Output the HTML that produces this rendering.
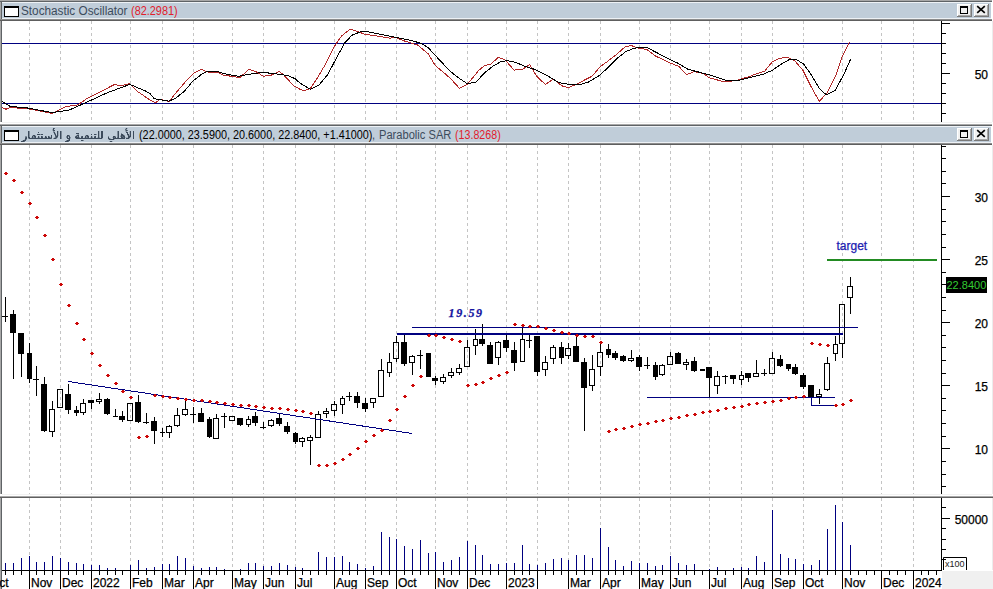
<!DOCTYPE html><html><head><meta charset="utf-8"><style>
html,body{margin:0;padding:0;background:#fff;}
body{width:993px;height:589px;overflow:hidden;position:relative;font-family:"Liberation Sans",sans-serif;}
.t{position:absolute;white-space:pre;font-size:12px;line-height:14px;}.b{-webkit-text-stroke:0.25px currentColor;}
svg{position:absolute;left:0;top:0;}
</style></head><body>
<svg width="993" height="589" viewBox="0 0 993 589">
<rect x="0" y="0" width="992" height="1" fill="#a8a8a8"/>
<rect x="0" y="1" width="992" height="1" fill="#5f6366"/>
<rect x="2" y="2" width="989" height="1" fill="#eef2f6"/>
<rect x="2" y="3" width="989" height="15" fill="#c0cdd9"/>
<rect x="2" y="18" width="989" height="1" fill="#edf1f5"/>
<rect x="0" y="19" width="992" height="1" fill="#8c8c8c"/>
<rect x="0" y="20" width="992" height="1" fill="#5e5e5e"/>
<rect x="0" y="2" width="1" height="17" fill="#a8a8a8"/>
<rect x="1" y="2" width="1" height="17" fill="#5f6366"/>
<rect x="4" y="6" width="15" height="11" fill="#000"/>
<rect x="5" y="8" width="13" height="8" fill="#fff"/>
<rect x="957" y="4" width="15" height="13" fill="#7a7a7a"/>
<rect x="957" y="4" width="14" height="12" fill="#ffffff"/>
<rect x="958" y="5" width="13" height="11" fill="#a8a8a8"/>
<rect x="958" y="5" width="12" height="10" fill="#f0f0f0"/>
<rect x="960" y="6" width="8" height="8" fill="#000"/>
<rect x="961" y="8" width="6" height="5" fill="#f0f0f0"/>
<rect x="974" y="4" width="15" height="13" fill="#7a7a7a"/>
<rect x="974" y="4" width="14" height="12" fill="#ffffff"/>
<rect x="975" y="5" width="13" height="11" fill="#a8a8a8"/>
<rect x="975" y="5" width="12" height="10" fill="#f0f0f0"/>
<path d="M977.2 6.2L984.8 12.8M984.8 6.2L977.2 12.8" stroke="#000" stroke-width="1.7"/>
<rect x="0" y="124" width="992" height="1" fill="#a8a8a8"/>
<rect x="0" y="125" width="992" height="1" fill="#5f6366"/>
<rect x="2" y="126" width="989" height="1" fill="#eef2f6"/>
<rect x="2" y="127" width="989" height="15" fill="#c0cdd9"/>
<rect x="2" y="142" width="989" height="1" fill="#edf1f5"/>
<rect x="0" y="143" width="992" height="1" fill="#8c8c8c"/>
<rect x="0" y="144" width="992" height="1" fill="#5e5e5e"/>
<rect x="0" y="126" width="1" height="17" fill="#a8a8a8"/>
<rect x="1" y="126" width="1" height="17" fill="#5f6366"/>
<rect x="4" y="130" width="15" height="11" fill="#000"/>
<rect x="5" y="132" width="13" height="8" fill="#fff"/>
<rect x="957" y="128" width="15" height="13" fill="#7a7a7a"/>
<rect x="957" y="128" width="14" height="12" fill="#ffffff"/>
<rect x="958" y="129" width="13" height="11" fill="#a8a8a8"/>
<rect x="958" y="129" width="12" height="10" fill="#f0f0f0"/>
<rect x="960" y="130" width="8" height="8" fill="#000"/>
<rect x="961" y="132" width="6" height="5" fill="#f0f0f0"/>
<rect x="974" y="128" width="15" height="13" fill="#7a7a7a"/>
<rect x="974" y="128" width="14" height="12" fill="#ffffff"/>
<rect x="975" y="129" width="13" height="11" fill="#a8a8a8"/>
<rect x="975" y="129" width="12" height="10" fill="#f0f0f0"/>
<path d="M977.2 130.2L984.8 136.8M984.8 130.2L977.2 136.8" stroke="#000" stroke-width="1.7"/>
<rect x="0" y="21" width="1" height="101" fill="#a8a8a8"/>
<rect x="1" y="21" width="1" height="101" fill="#5f6366"/>
<rect x="0" y="145" width="1" height="349" fill="#a8a8a8"/>
<rect x="1" y="145" width="1" height="349" fill="#5f6366"/>
<rect x="0" y="498" width="1" height="91" fill="#a8a8a8"/>
<rect x="1" y="498" width="1" height="91" fill="#5f6366"/>
<rect x="0" y="496" width="993" height="1" fill="#a8a8a8"/>
<rect x="0" y="497" width="993" height="1" fill="#5f5f5f"/>
<rect x="991" y="21" width="2" height="101" fill="#ffffff"/>
<rect x="992" y="21" width="1" height="101" fill="#ececec"/>
<rect x="992" y="145" width="1" height="349" fill="#ececec"/>
<rect x="992" y="498" width="1" height="72" fill="#ececec"/>
<rect x="2" y="494" width="990" height="1" fill="#f2f2f2"/>
<rect x="2" y="122" width="990" height="1" fill="#f2f2f2"/>
<line x1="29.5" y1="21" x2="29.5" y2="122" stroke="#c4c4c4" stroke-width="1" stroke-dasharray="3 3"/>
<line x1="29.5" y1="145" x2="29.5" y2="494" stroke="#c4c4c4" stroke-width="1" stroke-dasharray="3 3"/>
<line x1="29.5" y1="498" x2="29.5" y2="570" stroke="#c4c4c4" stroke-width="1" stroke-dasharray="3 3"/>
<line x1="60.5" y1="21" x2="60.5" y2="122" stroke="#c4c4c4" stroke-width="1" stroke-dasharray="3 3"/>
<line x1="60.5" y1="145" x2="60.5" y2="494" stroke="#c4c4c4" stroke-width="1" stroke-dasharray="3 3"/>
<line x1="60.5" y1="498" x2="60.5" y2="570" stroke="#c4c4c4" stroke-width="1" stroke-dasharray="3 3"/>
<line x1="91.5" y1="21" x2="91.5" y2="122" stroke="#c4c4c4" stroke-width="1" stroke-dasharray="3 3"/>
<line x1="91.5" y1="145" x2="91.5" y2="494" stroke="#c4c4c4" stroke-width="1" stroke-dasharray="3 3"/>
<line x1="91.5" y1="498" x2="91.5" y2="570" stroke="#c4c4c4" stroke-width="1" stroke-dasharray="3 3"/>
<line x1="130.5" y1="21" x2="130.5" y2="122" stroke="#c4c4c4" stroke-width="1" stroke-dasharray="3 3"/>
<line x1="130.5" y1="145" x2="130.5" y2="494" stroke="#c4c4c4" stroke-width="1" stroke-dasharray="3 3"/>
<line x1="130.5" y1="498" x2="130.5" y2="570" stroke="#c4c4c4" stroke-width="1" stroke-dasharray="3 3"/>
<line x1="162.5" y1="21" x2="162.5" y2="122" stroke="#c4c4c4" stroke-width="1" stroke-dasharray="3 3"/>
<line x1="162.5" y1="145" x2="162.5" y2="494" stroke="#c4c4c4" stroke-width="1" stroke-dasharray="3 3"/>
<line x1="162.5" y1="498" x2="162.5" y2="570" stroke="#c4c4c4" stroke-width="1" stroke-dasharray="3 3"/>
<line x1="193.5" y1="21" x2="193.5" y2="122" stroke="#c4c4c4" stroke-width="1" stroke-dasharray="3 3"/>
<line x1="193.5" y1="145" x2="193.5" y2="494" stroke="#c4c4c4" stroke-width="1" stroke-dasharray="3 3"/>
<line x1="193.5" y1="498" x2="193.5" y2="570" stroke="#c4c4c4" stroke-width="1" stroke-dasharray="3 3"/>
<line x1="232.5" y1="21" x2="232.5" y2="122" stroke="#c4c4c4" stroke-width="1" stroke-dasharray="3 3"/>
<line x1="232.5" y1="145" x2="232.5" y2="494" stroke="#c4c4c4" stroke-width="1" stroke-dasharray="3 3"/>
<line x1="232.5" y1="498" x2="232.5" y2="570" stroke="#c4c4c4" stroke-width="1" stroke-dasharray="3 3"/>
<line x1="263.5" y1="21" x2="263.5" y2="122" stroke="#c4c4c4" stroke-width="1" stroke-dasharray="3 3"/>
<line x1="263.5" y1="145" x2="263.5" y2="494" stroke="#c4c4c4" stroke-width="1" stroke-dasharray="3 3"/>
<line x1="263.5" y1="498" x2="263.5" y2="570" stroke="#c4c4c4" stroke-width="1" stroke-dasharray="3 3"/>
<line x1="295.5" y1="21" x2="295.5" y2="122" stroke="#c4c4c4" stroke-width="1" stroke-dasharray="3 3"/>
<line x1="295.5" y1="145" x2="295.5" y2="494" stroke="#c4c4c4" stroke-width="1" stroke-dasharray="3 3"/>
<line x1="295.5" y1="498" x2="295.5" y2="570" stroke="#c4c4c4" stroke-width="1" stroke-dasharray="3 3"/>
<line x1="334.5" y1="21" x2="334.5" y2="122" stroke="#c4c4c4" stroke-width="1" stroke-dasharray="3 3"/>
<line x1="334.5" y1="145" x2="334.5" y2="494" stroke="#c4c4c4" stroke-width="1" stroke-dasharray="3 3"/>
<line x1="334.5" y1="498" x2="334.5" y2="570" stroke="#c4c4c4" stroke-width="1" stroke-dasharray="3 3"/>
<line x1="365.5" y1="21" x2="365.5" y2="122" stroke="#c4c4c4" stroke-width="1" stroke-dasharray="3 3"/>
<line x1="365.5" y1="145" x2="365.5" y2="494" stroke="#c4c4c4" stroke-width="1" stroke-dasharray="3 3"/>
<line x1="365.5" y1="498" x2="365.5" y2="570" stroke="#c4c4c4" stroke-width="1" stroke-dasharray="3 3"/>
<line x1="396.5" y1="21" x2="396.5" y2="122" stroke="#c4c4c4" stroke-width="1" stroke-dasharray="3 3"/>
<line x1="396.5" y1="145" x2="396.5" y2="494" stroke="#c4c4c4" stroke-width="1" stroke-dasharray="3 3"/>
<line x1="396.5" y1="498" x2="396.5" y2="570" stroke="#c4c4c4" stroke-width="1" stroke-dasharray="3 3"/>
<line x1="435.5" y1="21" x2="435.5" y2="122" stroke="#c4c4c4" stroke-width="1" stroke-dasharray="3 3"/>
<line x1="435.5" y1="145" x2="435.5" y2="494" stroke="#c4c4c4" stroke-width="1" stroke-dasharray="3 3"/>
<line x1="435.5" y1="498" x2="435.5" y2="570" stroke="#c4c4c4" stroke-width="1" stroke-dasharray="3 3"/>
<line x1="467.5" y1="21" x2="467.5" y2="122" stroke="#c4c4c4" stroke-width="1" stroke-dasharray="3 3"/>
<line x1="467.5" y1="145" x2="467.5" y2="494" stroke="#c4c4c4" stroke-width="1" stroke-dasharray="3 3"/>
<line x1="467.5" y1="498" x2="467.5" y2="570" stroke="#c4c4c4" stroke-width="1" stroke-dasharray="3 3"/>
<line x1="506.5" y1="21" x2="506.5" y2="122" stroke="#c4c4c4" stroke-width="1" stroke-dasharray="3 3"/>
<line x1="506.5" y1="145" x2="506.5" y2="494" stroke="#c4c4c4" stroke-width="1" stroke-dasharray="3 3"/>
<line x1="506.5" y1="498" x2="506.5" y2="570" stroke="#c4c4c4" stroke-width="1" stroke-dasharray="3 3"/>
<line x1="537.5" y1="21" x2="537.5" y2="122" stroke="#c4c4c4" stroke-width="1" stroke-dasharray="3 3"/>
<line x1="537.5" y1="145" x2="537.5" y2="494" stroke="#c4c4c4" stroke-width="1" stroke-dasharray="3 3"/>
<line x1="537.5" y1="498" x2="537.5" y2="570" stroke="#c4c4c4" stroke-width="1" stroke-dasharray="3 3"/>
<line x1="568.5" y1="21" x2="568.5" y2="122" stroke="#c4c4c4" stroke-width="1" stroke-dasharray="3 3"/>
<line x1="568.5" y1="145" x2="568.5" y2="494" stroke="#c4c4c4" stroke-width="1" stroke-dasharray="3 3"/>
<line x1="568.5" y1="498" x2="568.5" y2="570" stroke="#c4c4c4" stroke-width="1" stroke-dasharray="3 3"/>
<line x1="600.5" y1="21" x2="600.5" y2="122" stroke="#c4c4c4" stroke-width="1" stroke-dasharray="3 3"/>
<line x1="600.5" y1="145" x2="600.5" y2="494" stroke="#c4c4c4" stroke-width="1" stroke-dasharray="3 3"/>
<line x1="600.5" y1="498" x2="600.5" y2="570" stroke="#c4c4c4" stroke-width="1" stroke-dasharray="3 3"/>
<line x1="639.5" y1="21" x2="639.5" y2="122" stroke="#c4c4c4" stroke-width="1" stroke-dasharray="3 3"/>
<line x1="639.5" y1="145" x2="639.5" y2="494" stroke="#c4c4c4" stroke-width="1" stroke-dasharray="3 3"/>
<line x1="639.5" y1="498" x2="639.5" y2="570" stroke="#c4c4c4" stroke-width="1" stroke-dasharray="3 3"/>
<line x1="670.5" y1="21" x2="670.5" y2="122" stroke="#c4c4c4" stroke-width="1" stroke-dasharray="3 3"/>
<line x1="670.5" y1="145" x2="670.5" y2="494" stroke="#c4c4c4" stroke-width="1" stroke-dasharray="3 3"/>
<line x1="670.5" y1="498" x2="670.5" y2="570" stroke="#c4c4c4" stroke-width="1" stroke-dasharray="3 3"/>
<line x1="709.5" y1="21" x2="709.5" y2="122" stroke="#c4c4c4" stroke-width="1" stroke-dasharray="3 3"/>
<line x1="709.5" y1="145" x2="709.5" y2="494" stroke="#c4c4c4" stroke-width="1" stroke-dasharray="3 3"/>
<line x1="709.5" y1="498" x2="709.5" y2="570" stroke="#c4c4c4" stroke-width="1" stroke-dasharray="3 3"/>
<line x1="741.5" y1="21" x2="741.5" y2="122" stroke="#c4c4c4" stroke-width="1" stroke-dasharray="3 3"/>
<line x1="741.5" y1="145" x2="741.5" y2="494" stroke="#c4c4c4" stroke-width="1" stroke-dasharray="3 3"/>
<line x1="741.5" y1="498" x2="741.5" y2="570" stroke="#c4c4c4" stroke-width="1" stroke-dasharray="3 3"/>
<line x1="772.5" y1="21" x2="772.5" y2="122" stroke="#c4c4c4" stroke-width="1" stroke-dasharray="3 3"/>
<line x1="772.5" y1="145" x2="772.5" y2="494" stroke="#c4c4c4" stroke-width="1" stroke-dasharray="3 3"/>
<line x1="772.5" y1="498" x2="772.5" y2="570" stroke="#c4c4c4" stroke-width="1" stroke-dasharray="3 3"/>
<line x1="803.5" y1="21" x2="803.5" y2="122" stroke="#c4c4c4" stroke-width="1" stroke-dasharray="3 3"/>
<line x1="803.5" y1="145" x2="803.5" y2="494" stroke="#c4c4c4" stroke-width="1" stroke-dasharray="3 3"/>
<line x1="803.5" y1="498" x2="803.5" y2="570" stroke="#c4c4c4" stroke-width="1" stroke-dasharray="3 3"/>
<line x1="842.5" y1="21" x2="842.5" y2="122" stroke="#c4c4c4" stroke-width="1" stroke-dasharray="3 3"/>
<line x1="842.5" y1="145" x2="842.5" y2="494" stroke="#c4c4c4" stroke-width="1" stroke-dasharray="3 3"/>
<line x1="842.5" y1="498" x2="842.5" y2="570" stroke="#c4c4c4" stroke-width="1" stroke-dasharray="3 3"/>
<line x1="881.5" y1="21" x2="881.5" y2="122" stroke="#c4c4c4" stroke-width="1" stroke-dasharray="3 3"/>
<line x1="881.5" y1="145" x2="881.5" y2="494" stroke="#c4c4c4" stroke-width="1" stroke-dasharray="3 3"/>
<line x1="881.5" y1="498" x2="881.5" y2="570" stroke="#c4c4c4" stroke-width="1" stroke-dasharray="3 3"/>
<line x1="913.5" y1="21" x2="913.5" y2="122" stroke="#c4c4c4" stroke-width="1" stroke-dasharray="3 3"/>
<line x1="913.5" y1="145" x2="913.5" y2="494" stroke="#c4c4c4" stroke-width="1" stroke-dasharray="3 3"/>
<line x1="913.5" y1="498" x2="913.5" y2="570" stroke="#c4c4c4" stroke-width="1" stroke-dasharray="3 3"/>
<rect x="941" y="21" width="1" height="101" fill="#000"/>
<rect x="941" y="145" width="1" height="349" fill="#000"/>
<rect x="941" y="498" width="1" height="73" fill="#000"/>
<rect x="942" y="113" width="4" height="1" fill="#000"/>
<rect x="942" y="103" width="4" height="1" fill="#000"/>
<rect x="942" y="93" width="4" height="1" fill="#000"/>
<rect x="942" y="83" width="4" height="1" fill="#000"/>
<rect x="942" y="73" width="8" height="1" fill="#000"/>
<rect x="942" y="63" width="4" height="1" fill="#000"/>
<rect x="942" y="53" width="4" height="1" fill="#000"/>
<rect x="942" y="43" width="4" height="1" fill="#000"/>
<rect x="942" y="33" width="4" height="1" fill="#000"/>
<rect x="942" y="23" width="8" height="1" fill="#000"/>
<rect x="942" y="486" width="4" height="1" fill="#000"/>
<rect x="942" y="474" width="4" height="1" fill="#000"/>
<rect x="942" y="461" width="4" height="1" fill="#000"/>
<rect x="942" y="448" width="8" height="1" fill="#000"/>
<rect x="942" y="436" width="4" height="1" fill="#000"/>
<rect x="942" y="423" width="4" height="1" fill="#000"/>
<rect x="942" y="410" width="4" height="1" fill="#000"/>
<rect x="942" y="398" width="4" height="1" fill="#000"/>
<rect x="942" y="385" width="8" height="1" fill="#000"/>
<rect x="942" y="373" width="4" height="1" fill="#000"/>
<rect x="942" y="360" width="4" height="1" fill="#000"/>
<rect x="942" y="347" width="4" height="1" fill="#000"/>
<rect x="942" y="335" width="4" height="1" fill="#000"/>
<rect x="942" y="322" width="8" height="1" fill="#000"/>
<rect x="942" y="310" width="4" height="1" fill="#000"/>
<rect x="942" y="297" width="4" height="1" fill="#000"/>
<rect x="942" y="284" width="4" height="1" fill="#000"/>
<rect x="942" y="272" width="4" height="1" fill="#000"/>
<rect x="942" y="259" width="8" height="1" fill="#000"/>
<rect x="942" y="247" width="4" height="1" fill="#000"/>
<rect x="942" y="234" width="4" height="1" fill="#000"/>
<rect x="942" y="221" width="4" height="1" fill="#000"/>
<rect x="942" y="209" width="4" height="1" fill="#000"/>
<rect x="942" y="196" width="8" height="1" fill="#000"/>
<rect x="942" y="183" width="4" height="1" fill="#000"/>
<rect x="942" y="171" width="4" height="1" fill="#000"/>
<rect x="942" y="158" width="4" height="1" fill="#000"/>
<rect x="942" y="146" width="4" height="1" fill="#000"/>
<rect x="942" y="507" width="4" height="1" fill="#000"/>
<rect x="942" y="518" width="8" height="1" fill="#000"/>
<rect x="942" y="528" width="4" height="1" fill="#000"/>
<rect x="942" y="539" width="4" height="1" fill="#000"/>
<rect x="942" y="549" width="4" height="1" fill="#000"/>
<rect x="942" y="559" width="4" height="1" fill="#000"/>
<rect x="2" y="570" width="940" height="1" fill="#000"/>
<rect x="942" y="571" width="51" height="18" fill="#f0f0f0"/>
<rect x="5" y="571" width="1" height="4" fill="#000"/>
<rect x="13" y="571" width="1" height="4" fill="#000"/>
<rect x="21" y="571" width="1" height="4" fill="#000"/>
<rect x="29" y="571" width="1" height="4" fill="#000"/>
<rect x="36" y="571" width="1" height="4" fill="#000"/>
<rect x="44" y="571" width="1" height="4" fill="#000"/>
<rect x="52" y="571" width="1" height="4" fill="#000"/>
<rect x="60" y="571" width="1" height="4" fill="#000"/>
<rect x="68" y="571" width="1" height="4" fill="#000"/>
<rect x="76" y="571" width="1" height="4" fill="#000"/>
<rect x="83" y="571" width="1" height="4" fill="#000"/>
<rect x="91" y="571" width="1" height="4" fill="#000"/>
<rect x="99" y="571" width="1" height="4" fill="#000"/>
<rect x="107" y="571" width="1" height="4" fill="#000"/>
<rect x="115" y="571" width="1" height="4" fill="#000"/>
<rect x="122" y="571" width="1" height="4" fill="#000"/>
<rect x="130" y="571" width="1" height="4" fill="#000"/>
<rect x="138" y="571" width="1" height="4" fill="#000"/>
<rect x="146" y="571" width="1" height="4" fill="#000"/>
<rect x="154" y="571" width="1" height="4" fill="#000"/>
<rect x="162" y="571" width="1" height="4" fill="#000"/>
<rect x="169" y="571" width="1" height="4" fill="#000"/>
<rect x="177" y="571" width="1" height="4" fill="#000"/>
<rect x="185" y="571" width="1" height="4" fill="#000"/>
<rect x="193" y="571" width="1" height="4" fill="#000"/>
<rect x="201" y="571" width="1" height="4" fill="#000"/>
<rect x="209" y="571" width="1" height="4" fill="#000"/>
<rect x="216" y="571" width="1" height="4" fill="#000"/>
<rect x="224" y="571" width="1" height="4" fill="#000"/>
<rect x="232" y="571" width="1" height="4" fill="#000"/>
<rect x="240" y="571" width="1" height="4" fill="#000"/>
<rect x="248" y="571" width="1" height="4" fill="#000"/>
<rect x="255" y="571" width="1" height="4" fill="#000"/>
<rect x="263" y="571" width="1" height="4" fill="#000"/>
<rect x="271" y="571" width="1" height="4" fill="#000"/>
<rect x="279" y="571" width="1" height="4" fill="#000"/>
<rect x="287" y="571" width="1" height="4" fill="#000"/>
<rect x="295" y="571" width="1" height="4" fill="#000"/>
<rect x="302" y="571" width="1" height="4" fill="#000"/>
<rect x="310" y="571" width="1" height="4" fill="#000"/>
<rect x="318" y="571" width="1" height="4" fill="#000"/>
<rect x="326" y="571" width="1" height="4" fill="#000"/>
<rect x="334" y="571" width="1" height="4" fill="#000"/>
<rect x="342" y="571" width="1" height="4" fill="#000"/>
<rect x="349" y="571" width="1" height="4" fill="#000"/>
<rect x="357" y="571" width="1" height="4" fill="#000"/>
<rect x="365" y="571" width="1" height="4" fill="#000"/>
<rect x="373" y="571" width="1" height="4" fill="#000"/>
<rect x="381" y="571" width="1" height="4" fill="#000"/>
<rect x="389" y="571" width="1" height="4" fill="#000"/>
<rect x="396" y="571" width="1" height="4" fill="#000"/>
<rect x="404" y="571" width="1" height="4" fill="#000"/>
<rect x="412" y="571" width="1" height="4" fill="#000"/>
<rect x="420" y="571" width="1" height="4" fill="#000"/>
<rect x="428" y="571" width="1" height="4" fill="#000"/>
<rect x="435" y="571" width="1" height="4" fill="#000"/>
<rect x="443" y="571" width="1" height="4" fill="#000"/>
<rect x="451" y="571" width="1" height="4" fill="#000"/>
<rect x="459" y="571" width="1" height="4" fill="#000"/>
<rect x="467" y="571" width="1" height="4" fill="#000"/>
<rect x="475" y="571" width="1" height="4" fill="#000"/>
<rect x="482" y="571" width="1" height="4" fill="#000"/>
<rect x="490" y="571" width="1" height="4" fill="#000"/>
<rect x="498" y="571" width="1" height="4" fill="#000"/>
<rect x="506" y="571" width="1" height="4" fill="#000"/>
<rect x="514" y="571" width="1" height="4" fill="#000"/>
<rect x="522" y="571" width="1" height="4" fill="#000"/>
<rect x="529" y="571" width="1" height="4" fill="#000"/>
<rect x="537" y="571" width="1" height="4" fill="#000"/>
<rect x="545" y="571" width="1" height="4" fill="#000"/>
<rect x="553" y="571" width="1" height="4" fill="#000"/>
<rect x="561" y="571" width="1" height="4" fill="#000"/>
<rect x="568" y="571" width="1" height="4" fill="#000"/>
<rect x="576" y="571" width="1" height="4" fill="#000"/>
<rect x="584" y="571" width="1" height="4" fill="#000"/>
<rect x="592" y="571" width="1" height="4" fill="#000"/>
<rect x="600" y="571" width="1" height="4" fill="#000"/>
<rect x="608" y="571" width="1" height="4" fill="#000"/>
<rect x="615" y="571" width="1" height="4" fill="#000"/>
<rect x="623" y="571" width="1" height="4" fill="#000"/>
<rect x="631" y="571" width="1" height="4" fill="#000"/>
<rect x="639" y="571" width="1" height="4" fill="#000"/>
<rect x="647" y="571" width="1" height="4" fill="#000"/>
<rect x="655" y="571" width="1" height="4" fill="#000"/>
<rect x="662" y="571" width="1" height="4" fill="#000"/>
<rect x="670" y="571" width="1" height="4" fill="#000"/>
<rect x="678" y="571" width="1" height="4" fill="#000"/>
<rect x="686" y="571" width="1" height="4" fill="#000"/>
<rect x="694" y="571" width="1" height="4" fill="#000"/>
<rect x="702" y="571" width="1" height="4" fill="#000"/>
<rect x="709" y="571" width="1" height="4" fill="#000"/>
<rect x="717" y="571" width="1" height="4" fill="#000"/>
<rect x="725" y="571" width="1" height="4" fill="#000"/>
<rect x="733" y="571" width="1" height="4" fill="#000"/>
<rect x="741" y="571" width="1" height="4" fill="#000"/>
<rect x="748" y="571" width="1" height="4" fill="#000"/>
<rect x="756" y="571" width="1" height="4" fill="#000"/>
<rect x="764" y="571" width="1" height="4" fill="#000"/>
<rect x="772" y="571" width="1" height="4" fill="#000"/>
<rect x="780" y="571" width="1" height="4" fill="#000"/>
<rect x="788" y="571" width="1" height="4" fill="#000"/>
<rect x="795" y="571" width="1" height="4" fill="#000"/>
<rect x="803" y="571" width="1" height="4" fill="#000"/>
<rect x="811" y="571" width="1" height="4" fill="#000"/>
<rect x="819" y="571" width="1" height="4" fill="#000"/>
<rect x="827" y="571" width="1" height="4" fill="#000"/>
<rect x="835" y="571" width="1" height="4" fill="#000"/>
<rect x="842" y="571" width="1" height="4" fill="#000"/>
<rect x="850" y="571" width="1" height="4" fill="#000"/>
<rect x="858" y="571" width="1" height="4" fill="#000"/>
<rect x="866" y="571" width="1" height="4" fill="#000"/>
<rect x="874" y="571" width="1" height="4" fill="#000"/>
<rect x="881" y="571" width="1" height="4" fill="#000"/>
<rect x="889" y="571" width="1" height="4" fill="#000"/>
<rect x="897" y="571" width="1" height="4" fill="#000"/>
<rect x="905" y="571" width="1" height="4" fill="#000"/>
<rect x="913" y="571" width="1" height="4" fill="#000"/>
<rect x="921" y="571" width="1" height="4" fill="#000"/>
<rect x="928" y="571" width="1" height="4" fill="#000"/>
<rect x="936" y="571" width="1" height="4" fill="#000"/>
<rect x="29" y="571" width="1" height="18" fill="#000"/>
<rect x="60" y="571" width="1" height="18" fill="#000"/>
<rect x="91" y="571" width="1" height="18" fill="#000"/>
<rect x="130" y="571" width="1" height="18" fill="#000"/>
<rect x="162" y="571" width="1" height="18" fill="#000"/>
<rect x="193" y="571" width="1" height="18" fill="#000"/>
<rect x="232" y="571" width="1" height="18" fill="#000"/>
<rect x="263" y="571" width="1" height="18" fill="#000"/>
<rect x="295" y="571" width="1" height="18" fill="#000"/>
<rect x="334" y="571" width="1" height="18" fill="#000"/>
<rect x="365" y="571" width="1" height="18" fill="#000"/>
<rect x="396" y="571" width="1" height="18" fill="#000"/>
<rect x="435" y="571" width="1" height="18" fill="#000"/>
<rect x="467" y="571" width="1" height="18" fill="#000"/>
<rect x="506" y="571" width="1" height="18" fill="#000"/>
<rect x="537" y="571" width="1" height="18" fill="#000"/>
<rect x="568" y="571" width="1" height="18" fill="#000"/>
<rect x="600" y="571" width="1" height="18" fill="#000"/>
<rect x="639" y="571" width="1" height="18" fill="#000"/>
<rect x="670" y="571" width="1" height="18" fill="#000"/>
<rect x="709" y="571" width="1" height="18" fill="#000"/>
<rect x="741" y="571" width="1" height="18" fill="#000"/>
<rect x="772" y="571" width="1" height="18" fill="#000"/>
<rect x="803" y="571" width="1" height="18" fill="#000"/>
<rect x="842" y="571" width="1" height="18" fill="#000"/>
<rect x="881" y="571" width="1" height="18" fill="#000"/>
<rect x="913" y="571" width="1" height="18" fill="#000"/>
<rect x="2" y="43" width="939" height="1" fill="#000080"/>
<rect x="2" y="103" width="939" height="1" fill="#000080"/>
<polyline points="1.7,107.4 6.0,109.2 10.4,107.4 31.2,109.2 52.0,113.5 65.8,106.6 78.0,104.8 86.6,98.8 93.5,95.3 114.3,84.6 121.2,85.5 129.9,83.7 136.8,91.0 150.0,100.0 155.2,102.8 160.4,99.3 169.0,101.4 176.0,92.8 186.4,80.6 194.2,72.8 201.1,69.4 208.0,72.0 217.6,72.3 223.6,75.1 231.4,76.3 240.0,77.5 248.7,69.4 255.7,71.6 263.5,76.3 271.3,75.1 279.0,71.4 283.4,74.6 293.8,85.8 300.0,89.3 304.3,90.7 310.4,88.4 317.3,78.0 326.0,63.3 334.6,46.0 341.6,35.9 350.2,29.0 357.2,31.3 365.0,34.4 378.0,36.1 390.0,38.2 395.3,37.3 403.9,40.8 417.8,45.1 428.2,53.8 435.1,65.4 442.0,71.1 450.0,78.0 459.5,88.4 467.3,84.4 478.6,70.6 484.6,65.4 490.7,64.2 498.5,57.2 505.4,60.2 514.1,70.2 522.8,69.0 529.7,64.7 536.6,76.3 545.3,84.4 553.9,78.9 561.7,85.8 568.7,87.6 574.7,85.0 592.0,76.3 600.0,66.8 606.9,61.9 617.3,53.8 625.1,46.8 631.2,45.5 638.1,48.2 646.8,49.4 655.4,56.0 671.0,63.3 678.8,66.4 686.6,74.6 694.4,71.6 703.9,73.7 709.1,77.7 724.7,82.0 736.8,80.3 750.0,76.3 756.9,73.7 764.7,71.1 772.5,61.6 779.4,58.5 787.2,57.2 795.0,61.1 802.8,70.2 810.6,85.8 819.3,101.4 827.1,92.8 836.6,73.7 841.8,57.2 849.3,42.2" fill="none" stroke="#b02828" stroke-width="1" shape-rendering="crispEdges"/>
<polyline points="1.7,101.4 10.4,106.6 24.2,107.4 52.0,112.6 69.3,110.0 84.8,103.1 107.4,92.7 129.9,84.4 145.5,91.0 150.0,93.6 154.3,98.8 169.0,101.1 176.0,98.0 184.6,91.0 193.3,80.6 202.0,74.0 207.2,71.6 217.6,71.6 224.5,73.7 238.3,76.3 247.0,74.6 262.6,72.3 281.6,74.6 288.6,75.8 295.5,78.9 300.0,83.2 310.4,89.3 319.1,85.0 327.7,74.6 336.4,58.1 345.0,42.5 352.0,35.2 360.6,31.8 365.8,31.3 378.0,33.9 395.3,37.3 410.9,40.4 421.3,43.4 428.2,47.7 438.6,59.0 450.0,71.1 458.7,78.0 467.3,83.7 476.0,82.0 484.6,72.8 493.3,65.9 501.1,61.6 507.2,60.7 515.8,62.4 526.2,66.8 534.9,69.4 545.3,74.6 559.1,82.7 569.5,84.4 578.2,85.0 588.6,82.0 600.0,75.1 608.7,66.8 617.3,58.1 626.0,51.5 634.6,48.1 646.8,47.4 657.2,52.9 669.3,59.0 678.0,63.3 688.3,69.4 703.9,73.4 712.6,75.8 726.5,80.6 738.6,80.3 750.0,77.5 763.9,74.0 772.5,70.2 781.2,64.2 789.8,59.3 796.8,59.8 803.7,64.2 810.6,73.7 819.3,88.4 826.2,94.8 834.9,90.7 843.5,75.1 850.5,59.5" fill="none" stroke="#000" stroke-width="1" shape-rendering="crispEdges"/>
<rect x="5" y="297" width="1" height="25" fill="#000"/>
<rect x="2" y="316" width="6" height="1" fill="#000"/>
<rect x="13" y="310" width="1" height="69" fill="#000"/>
<rect x="10" y="314" width="6" height="19" fill="#000"/>
<rect x="21" y="333" width="1" height="44" fill="#000"/>
<rect x="18" y="333" width="6" height="21" fill="#000"/>
<rect x="29" y="343" width="1" height="40" fill="#000"/>
<rect x="27" y="353" width="5" height="26" fill="#000"/>
<rect x="36" y="366" width="1" height="30" fill="#000"/>
<rect x="33" y="379" width="6" height="1" fill="#000"/>
<rect x="44" y="377" width="1" height="55" fill="#000"/>
<rect x="41" y="384" width="6" height="47" fill="#000"/>
<rect x="52" y="401" width="1" height="8" fill="#000"/>
<rect x="52" y="432" width="1" height="5" fill="#000"/>
<path d="M49 409h6v23h-6z M50 410v21h4v-21z" fill="#000"/>
<path d="M57 389h6v19h-6z M58 390v17h4v-17z" fill="#000"/>
<rect x="68" y="384" width="1" height="30" fill="#000"/>
<rect x="65" y="394" width="6" height="16" fill="#000"/>
<rect x="76" y="406" width="1" height="10" fill="#000"/>
<rect x="74" y="410" width="5" height="3" fill="#000"/>
<rect x="83" y="399" width="1" height="4" fill="#000"/>
<rect x="83" y="413" width="1" height="2" fill="#000"/>
<path d="M80 403h6v10h-6z M81 404v8h4v-8z" fill="#000"/>
<rect x="91" y="400" width="1" height="9" fill="#000"/>
<rect x="88" y="400" width="6" height="3" fill="#000"/>
<rect x="99" y="393" width="1" height="6" fill="#000"/>
<rect x="99" y="402" width="1" height="2" fill="#000"/>
<path d="M96 399h6v3h-6z M97 400v1h4v-1z" fill="#000"/>
<rect x="107" y="398" width="1" height="17" fill="#000"/>
<rect x="104" y="399" width="6" height="15" fill="#000"/>
<rect x="115" y="409" width="1" height="8" fill="#000"/>
<rect x="113" y="416" width="5" height="1" fill="#000"/>
<rect x="122" y="411" width="1" height="11" fill="#000"/>
<rect x="119" y="416" width="6" height="4" fill="#000"/>
<path d="M127 403h6v18h-6z M128 404v16h4v-16z" fill="#000"/>
<rect x="138" y="395" width="1" height="28" fill="#000"/>
<rect x="135" y="402" width="6" height="20" fill="#000"/>
<rect x="146" y="413" width="1" height="11" fill="#000"/>
<rect x="143" y="422" width="6" height="1" fill="#000"/>
<rect x="154" y="417" width="1" height="27" fill="#000"/>
<rect x="151" y="421" width="6" height="10" fill="#000"/>
<rect x="162" y="428" width="1" height="9" fill="#000"/>
<rect x="160" y="432" width="5" height="1" fill="#000"/>
<rect x="169" y="425" width="1" height="1" fill="#000"/>
<rect x="169" y="433" width="1" height="5" fill="#000"/>
<path d="M166 426h6v7h-6z M167 427v5h4v-5z" fill="#000"/>
<rect x="177" y="408" width="1" height="7" fill="#000"/>
<rect x="177" y="426" width="1" height="1" fill="#000"/>
<path d="M174 415h6v11h-6z M175 416v9h4v-9z" fill="#000"/>
<rect x="185" y="401" width="1" height="8" fill="#000"/>
<rect x="185" y="415" width="1" height="1" fill="#000"/>
<path d="M182 409h6v6h-6z M183 410v4h4v-4z" fill="#000"/>
<rect x="193" y="407" width="1" height="16" fill="#000"/>
<rect x="190" y="414" width="6" height="1" fill="#000"/>
<rect x="201" y="408" width="1" height="14" fill="#000"/>
<rect x="198" y="413" width="6" height="9" fill="#000"/>
<rect x="209" y="417" width="1" height="21" fill="#000"/>
<rect x="207" y="419" width="5" height="18" fill="#000"/>
<rect x="216" y="414" width="1" height="4" fill="#000"/>
<path d="M213 418h6v21h-6z M214 419v19h4v-19z" fill="#000"/>
<rect x="224" y="413" width="1" height="15" fill="#000"/>
<rect x="221" y="416" width="6" height="1" fill="#000"/>
<path d="M229 416h6v5h-6z M230 417v3h4v-3z" fill="#000"/>
<rect x="240" y="418" width="1" height="8" fill="#000"/>
<rect x="237" y="418" width="6" height="7" fill="#000"/>
<rect x="248" y="416" width="1" height="3" fill="#000"/>
<rect x="248" y="425" width="1" height="2" fill="#000"/>
<path d="M246 419h5v6h-5z M247 420v4h3v-4z" fill="#000"/>
<rect x="255" y="412" width="1" height="14" fill="#000"/>
<rect x="252" y="416" width="6" height="7" fill="#000"/>
<rect x="263" y="422" width="1" height="7" fill="#000"/>
<rect x="260" y="427" width="6" height="1" fill="#000"/>
<rect x="271" y="419" width="1" height="1" fill="#000"/>
<rect x="271" y="426" width="1" height="1" fill="#000"/>
<path d="M268 420h6v6h-6z M269 421v4h4v-4z" fill="#000"/>
<rect x="279" y="414" width="1" height="12" fill="#000"/>
<rect x="276" y="418" width="6" height="6" fill="#000"/>
<rect x="287" y="422" width="1" height="12" fill="#000"/>
<rect x="284" y="426" width="6" height="6" fill="#000"/>
<rect x="295" y="432" width="1" height="12" fill="#000"/>
<rect x="293" y="433" width="5" height="9" fill="#000"/>
<rect x="302" y="437" width="1" height="1" fill="#000"/>
<rect x="302" y="442" width="1" height="5" fill="#000"/>
<path d="M299 438h6v4h-6z M300 439v2h4v-2z" fill="#000"/>
<rect x="310" y="435" width="1" height="2" fill="#000"/>
<rect x="310" y="441" width="1" height="24" fill="#000"/>
<path d="M307 437h6v4h-6z M308 438v2h4v-2z" fill="#000"/>
<rect x="318" y="411" width="1" height="3" fill="#000"/>
<path d="M315 414h6v24h-6z M316 415v22h4v-22z" fill="#000"/>
<rect x="326" y="408" width="1" height="3" fill="#000"/>
<rect x="326" y="414" width="1" height="4" fill="#000"/>
<path d="M323 411h6v3h-6z M324 412v1h4v-1z" fill="#000"/>
<rect x="334" y="401" width="1" height="3" fill="#000"/>
<rect x="334" y="411" width="1" height="5" fill="#000"/>
<path d="M331 404h6v7h-6z M332 405v5h4v-5z" fill="#000"/>
<rect x="342" y="396" width="1" height="2" fill="#000"/>
<rect x="342" y="405" width="1" height="9" fill="#000"/>
<path d="M340 398h5v7h-5z M341 399v5h3v-5z" fill="#000"/>
<rect x="349" y="392" width="1" height="9" fill="#000"/>
<rect x="346" y="396" width="6" height="1" fill="#000"/>
<rect x="357" y="392" width="1" height="16" fill="#000"/>
<rect x="354" y="396" width="6" height="7" fill="#000"/>
<rect x="365" y="398" width="1" height="14" fill="#000"/>
<rect x="362" y="403" width="6" height="6" fill="#000"/>
<rect x="373" y="403" width="1" height="5" fill="#000"/>
<path d="M370 398h6v5h-6z M371 399v3h4v-3z" fill="#000"/>
<rect x="381" y="359" width="1" height="11" fill="#000"/>
<path d="M378 370h6v27h-6z M379 371v25h4v-25z" fill="#000"/>
<rect x="389" y="353" width="1" height="9" fill="#000"/>
<rect x="389" y="373" width="1" height="4" fill="#000"/>
<path d="M387 362h5v11h-5z M388 363v9h3v-9z" fill="#000"/>
<rect x="396" y="336" width="1" height="6" fill="#000"/>
<rect x="396" y="359" width="1" height="3" fill="#000"/>
<path d="M393 342h6v17h-6z M394 343v15h4v-15z" fill="#000"/>
<rect x="404" y="335" width="1" height="31" fill="#000"/>
<rect x="401" y="342" width="6" height="22" fill="#000"/>
<rect x="412" y="355" width="1" height="1" fill="#000"/>
<rect x="412" y="363" width="1" height="12" fill="#000"/>
<path d="M409 356h6v7h-6z M410 357v5h4v-5z" fill="#000"/>
<rect x="420" y="350" width="1" height="19" fill="#000"/>
<rect x="417" y="355" width="6" height="1" fill="#000"/>
<rect x="428" y="353" width="1" height="24" fill="#000"/>
<rect x="426" y="353" width="5" height="24" fill="#000"/>
<rect x="435" y="376" width="1" height="9" fill="#000"/>
<rect x="432" y="378" width="6" height="3" fill="#000"/>
<rect x="443" y="374" width="1" height="3" fill="#000"/>
<rect x="443" y="382" width="1" height="2" fill="#000"/>
<path d="M440 377h6v5h-6z M441 378v3h4v-3z" fill="#000"/>
<rect x="451" y="368" width="1" height="4" fill="#000"/>
<rect x="451" y="376" width="1" height="2" fill="#000"/>
<path d="M448 372h6v4h-6z M449 373v2h4v-2z" fill="#000"/>
<rect x="459" y="364" width="1" height="4" fill="#000"/>
<rect x="459" y="373" width="1" height="2" fill="#000"/>
<path d="M456 368h6v5h-6z M457 369v3h4v-3z" fill="#000"/>
<rect x="467" y="340" width="1" height="7" fill="#000"/>
<path d="M464 347h6v20h-6z M465 348v18h4v-18z" fill="#000"/>
<rect x="475" y="329" width="1" height="10" fill="#000"/>
<rect x="475" y="346" width="1" height="9" fill="#000"/>
<path d="M473 339h5v7h-5z M474 340v5h3v-5z" fill="#000"/>
<rect x="482" y="324" width="1" height="22" fill="#000"/>
<rect x="479" y="339" width="6" height="5" fill="#000"/>
<rect x="490" y="342" width="1" height="21" fill="#000"/>
<rect x="487" y="345" width="6" height="19" fill="#000"/>
<rect x="498" y="341" width="1" height="1" fill="#000"/>
<rect x="498" y="358" width="1" height="7" fill="#000"/>
<path d="M495 342h6v16h-6z M496 343v14h4v-14z" fill="#000"/>
<rect x="506" y="335" width="1" height="17" fill="#000"/>
<rect x="503" y="340" width="6" height="8" fill="#000"/>
<rect x="514" y="342" width="1" height="29" fill="#000"/>
<rect x="511" y="350" width="6" height="13" fill="#000"/>
<rect x="522" y="327" width="1" height="12" fill="#000"/>
<path d="M520 339h5v23h-5z M521 340v21h3v-21z" fill="#000"/>
<rect x="529" y="335" width="1" height="13" fill="#000"/>
<rect x="526" y="340" width="6" height="1" fill="#000"/>
<rect x="537" y="336" width="1" height="40" fill="#000"/>
<rect x="534" y="336" width="6" height="36" fill="#000"/>
<rect x="545" y="356" width="1" height="6" fill="#000"/>
<rect x="545" y="370" width="1" height="6" fill="#000"/>
<path d="M542 362h6v8h-6z M543 363v6h4v-6z" fill="#000"/>
<rect x="553" y="345" width="1" height="2" fill="#000"/>
<rect x="553" y="359" width="1" height="5" fill="#000"/>
<path d="M550 347h6v12h-6z M551 348v10h4v-10z" fill="#000"/>
<rect x="561" y="342" width="1" height="22" fill="#000"/>
<rect x="559" y="347" width="5" height="11" fill="#000"/>
<rect x="568" y="343" width="1" height="5" fill="#000"/>
<rect x="568" y="356" width="1" height="3" fill="#000"/>
<path d="M565 348h6v8h-6z M566 349v6h4v-6z" fill="#000"/>
<rect x="576" y="336" width="1" height="26" fill="#000"/>
<rect x="573" y="346" width="6" height="16" fill="#000"/>
<rect x="584" y="358" width="1" height="73" fill="#000"/>
<rect x="581" y="362" width="6" height="26" fill="#000"/>
<rect x="592" y="355" width="1" height="14" fill="#000"/>
<rect x="592" y="386" width="1" height="5" fill="#000"/>
<path d="M589 369h6v17h-6z M590 370v15h4v-15z" fill="#000"/>
<rect x="600" y="344" width="1" height="8" fill="#000"/>
<rect x="600" y="367" width="1" height="9" fill="#000"/>
<path d="M597 352h6v15h-6z M598 353v13h4v-13z" fill="#000"/>
<rect x="608" y="344" width="1" height="14" fill="#000"/>
<rect x="606" y="349" width="5" height="6" fill="#000"/>
<rect x="615" y="351" width="1" height="9" fill="#000"/>
<rect x="612" y="353" width="6" height="5" fill="#000"/>
<rect x="623" y="355" width="1" height="7" fill="#000"/>
<rect x="620" y="356" width="6" height="5" fill="#000"/>
<rect x="631" y="350" width="1" height="8" fill="#000"/>
<rect x="631" y="361" width="1" height="1" fill="#000"/>
<path d="M628 358h6v3h-6z M629 359v1h4v-1z" fill="#000"/>
<rect x="639" y="355" width="1" height="16" fill="#000"/>
<rect x="636" y="357" width="6" height="10" fill="#000"/>
<rect x="647" y="357" width="1" height="12" fill="#000"/>
<rect x="644" y="365" width="6" height="1" fill="#000"/>
<rect x="655" y="362" width="1" height="18" fill="#000"/>
<rect x="653" y="365" width="5" height="12" fill="#000"/>
<rect x="662" y="364" width="1" height="1" fill="#000"/>
<rect x="662" y="375" width="1" height="1" fill="#000"/>
<path d="M659 365h6v10h-6z M660 366v8h4v-8z" fill="#000"/>
<rect x="670" y="352" width="1" height="4" fill="#000"/>
<path d="M667 356h6v9h-6z M668 357v7h4v-7z" fill="#000"/>
<rect x="678" y="352" width="1" height="12" fill="#000"/>
<rect x="675" y="353" width="6" height="11" fill="#000"/>
<rect x="686" y="359" width="1" height="3" fill="#000"/>
<rect x="686" y="365" width="1" height="5" fill="#000"/>
<path d="M683 362h6v3h-6z M684 363v1h4v-1z" fill="#000"/>
<rect x="694" y="357" width="1" height="15" fill="#000"/>
<rect x="691" y="361" width="6" height="10" fill="#000"/>
<rect x="702" y="369" width="1" height="2" fill="#000"/>
<rect x="700" y="369" width="5" height="2" fill="#000"/>
<rect x="709" y="367" width="1" height="30" fill="#000"/>
<rect x="706" y="367" width="6" height="11" fill="#000"/>
<rect x="717" y="371" width="1" height="5" fill="#000"/>
<rect x="717" y="386" width="1" height="8" fill="#000"/>
<path d="M714 376h6v10h-6z M715 377v8h4v-8z" fill="#000"/>
<rect x="725" y="375" width="1" height="9" fill="#000"/>
<rect x="722" y="376" width="6" height="1" fill="#000"/>
<rect x="733" y="375" width="1" height="9" fill="#000"/>
<rect x="730" y="375" width="6" height="4" fill="#000"/>
<rect x="741" y="371" width="1" height="4" fill="#000"/>
<rect x="741" y="380" width="1" height="5" fill="#000"/>
<path d="M739 375h5v5h-5z M740 376v3h3v-3z" fill="#000"/>
<rect x="748" y="373" width="1" height="9" fill="#000"/>
<rect x="745" y="373" width="6" height="5" fill="#000"/>
<rect x="756" y="360" width="1" height="13" fill="#000"/>
<path d="M753 373h6v4h-6z M754 374v2h4v-2z" fill="#000"/>
<rect x="764" y="369" width="1" height="7" fill="#000"/>
<rect x="761" y="373" width="6" height="1" fill="#000"/>
<rect x="772" y="352" width="1" height="6" fill="#000"/>
<path d="M769 358h6v16h-6z M770 359v14h4v-14z" fill="#000"/>
<rect x="780" y="355" width="1" height="12" fill="#000"/>
<rect x="777" y="359" width="6" height="7" fill="#000"/>
<rect x="788" y="364" width="1" height="7" fill="#000"/>
<rect x="786" y="364" width="5" height="5" fill="#000"/>
<rect x="795" y="364" width="1" height="11" fill="#000"/>
<rect x="792" y="367" width="6" height="7" fill="#000"/>
<rect x="803" y="373" width="1" height="16" fill="#000"/>
<rect x="800" y="375" width="6" height="12" fill="#000"/>
<rect x="811" y="385" width="1" height="12" fill="#000"/>
<rect x="808" y="385" width="6" height="12" fill="#000"/>
<rect x="819" y="389" width="1" height="5" fill="#000"/>
<rect x="819" y="397" width="1" height="7" fill="#000"/>
<path d="M816 394h6v3h-6z M817 395v1h4v-1z" fill="#000"/>
<rect x="827" y="357" width="1" height="6" fill="#000"/>
<rect x="827" y="390" width="1" height="1" fill="#000"/>
<path d="M824 363h6v27h-6z M825 364v25h4v-25z" fill="#000"/>
<rect x="835" y="336" width="1" height="8" fill="#000"/>
<rect x="835" y="354" width="1" height="7" fill="#000"/>
<path d="M833 344h5v10h-5z M834 345v8h3v-8z" fill="#000"/>
<rect x="842" y="344" width="1" height="14" fill="#000"/>
<path d="M839 304h6v40h-6z M840 305v38h4v-38z" fill="#000"/>
<rect x="850" y="277" width="1" height="9" fill="#000"/>
<rect x="850" y="298" width="1" height="16" fill="#000"/>
<path d="M847 286h6v12h-6z M848 287v10h4v-10z" fill="#000"/>
<line x1="68.5" y1="381.5" x2="412" y2="433.5" stroke="#000080" stroke-width="1" shape-rendering="crispEdges"/>
<rect x="397" y="333" width="446" height="2" fill="#000080"/>
<rect x="412" y="327" width="446" height="1" fill="#000080"/>
<rect x="647" y="397" width="188" height="1" fill="#000080"/>
<rect x="811" y="397" width="1" height="9" fill="#000080"/>
<rect x="811" y="405" width="25" height="1" fill="#000080"/>
<rect x="827" y="259" width="110" height="2" fill="#228b22"/>
<path d="M5 172h2v1h1v1h-1v1h-2v-1h-1v-1h1z" fill="#cc0808"/>
<path d="M13 179h2v1h1v1h-1v1h-2v-1h-1v-1h1z" fill="#cc0808"/>
<path d="M21 191h2v1h1v1h-1v1h-2v-1h-1v-1h1z" fill="#cc0808"/>
<path d="M29 202h2v1h1v1h-1v1h-2v-1h-1v-1h1z" fill="#cc0808"/>
<path d="M36 216h2v1h1v1h-1v1h-2v-1h-1v-1h1z" fill="#cc0808"/>
<path d="M44 234h2v1h1v1h-1v1h-2v-1h-1v-1h1z" fill="#cc0808"/>
<path d="M52 258h2v1h1v1h-1v1h-2v-1h-1v-1h1z" fill="#cc0808"/>
<path d="M60 283h2v1h1v1h-1v1h-2v-1h-1v-1h1z" fill="#cc0808"/>
<path d="M68 304h2v1h1v1h-1v1h-2v-1h-1v-1h1z" fill="#cc0808"/>
<path d="M76 322h2v1h1v1h-1v1h-2v-1h-1v-1h1z" fill="#cc0808"/>
<path d="M83 338h2v1h1v1h-1v1h-2v-1h-1v-1h1z" fill="#cc0808"/>
<path d="M91 352h2v1h1v1h-1v1h-2v-1h-1v-1h1z" fill="#cc0808"/>
<path d="M99 364h2v1h1v1h-1v1h-2v-1h-1v-1h1z" fill="#cc0808"/>
<path d="M107 374h2v1h1v1h-1v1h-2v-1h-1v-1h1z" fill="#cc0808"/>
<path d="M115 382h2v1h1v1h-1v1h-2v-1h-1v-1h1z" fill="#cc0808"/>
<path d="M122 390h2v1h1v1h-1v1h-2v-1h-1v-1h1z" fill="#cc0808"/>
<path d="M130 396h2v1h1v1h-1v1h-2v-1h-1v-1h1z" fill="#cc0808"/>
<path d="M138 436h2v1h1v1h-1v1h-2v-1h-1v-1h1z" fill="#cc0808"/>
<path d="M146 435h2v1h1v1h-1v1h-2v-1h-1v-1h1z" fill="#cc0808"/>
<path d="M154 394h2v1h1v1h-1v1h-2v-1h-1v-1h1z" fill="#cc0808"/>
<path d="M162 395h2v1h1v1h-1v1h-2v-1h-1v-1h1z" fill="#cc0808"/>
<path d="M169 396h2v1h1v1h-1v1h-2v-1h-1v-1h1z" fill="#cc0808"/>
<path d="M177 397h2v1h1v1h-1v1h-2v-1h-1v-1h1z" fill="#cc0808"/>
<path d="M185 398h2v1h1v1h-1v1h-2v-1h-1v-1h1z" fill="#cc0808"/>
<path d="M193 399h2v1h1v1h-1v1h-2v-1h-1v-1h1z" fill="#cc0808"/>
<path d="M201 399h2v1h1v1h-1v1h-2v-1h-1v-1h1z" fill="#cc0808"/>
<path d="M209 400h2v1h1v1h-1v1h-2v-1h-1v-1h1z" fill="#cc0808"/>
<path d="M216 401h2v1h1v1h-1v1h-2v-1h-1v-1h1z" fill="#cc0808"/>
<path d="M224 402h2v1h1v1h-1v1h-2v-1h-1v-1h1z" fill="#cc0808"/>
<path d="M232 403h2v1h1v1h-1v1h-2v-1h-1v-1h1z" fill="#cc0808"/>
<path d="M240 404h2v1h1v1h-1v1h-2v-1h-1v-1h1z" fill="#cc0808"/>
<path d="M248 404h2v1h1v1h-1v1h-2v-1h-1v-1h1z" fill="#cc0808"/>
<path d="M255 405h2v1h1v1h-1v1h-2v-1h-1v-1h1z" fill="#cc0808"/>
<path d="M263 406h2v1h1v1h-1v1h-2v-1h-1v-1h1z" fill="#cc0808"/>
<path d="M271 407h2v1h1v1h-1v1h-2v-1h-1v-1h1z" fill="#cc0808"/>
<path d="M279 407h2v1h1v1h-1v1h-2v-1h-1v-1h1z" fill="#cc0808"/>
<path d="M287 408h2v1h1v1h-1v1h-2v-1h-1v-1h1z" fill="#cc0808"/>
<path d="M295 409h2v1h1v1h-1v1h-2v-1h-1v-1h1z" fill="#cc0808"/>
<path d="M302 410h2v1h1v1h-1v1h-2v-1h-1v-1h1z" fill="#cc0808"/>
<path d="M310 412h2v1h1v1h-1v1h-2v-1h-1v-1h1z" fill="#cc0808"/>
<path d="M318 464h2v1h1v1h-1v1h-2v-1h-1v-1h1z" fill="#cc0808"/>
<path d="M326 464h2v1h1v1h-1v1h-2v-1h-1v-1h1z" fill="#cc0808"/>
<path d="M334 462h2v1h1v1h-1v1h-2v-1h-1v-1h1z" fill="#cc0808"/>
<path d="M342 458h2v1h1v1h-1v1h-2v-1h-1v-1h1z" fill="#cc0808"/>
<path d="M349 453h2v1h1v1h-1v1h-2v-1h-1v-1h1z" fill="#cc0808"/>
<path d="M357 447h2v1h1v1h-1v1h-2v-1h-1v-1h1z" fill="#cc0808"/>
<path d="M365 440h2v1h1v1h-1v1h-2v-1h-1v-1h1z" fill="#cc0808"/>
<path d="M373 434h2v1h1v1h-1v1h-2v-1h-1v-1h1z" fill="#cc0808"/>
<path d="M381 429h2v1h1v1h-1v1h-2v-1h-1v-1h1z" fill="#cc0808"/>
<path d="M389 419h2v1h1v1h-1v1h-2v-1h-1v-1h1z" fill="#cc0808"/>
<path d="M396 408h2v1h1v1h-1v1h-2v-1h-1v-1h1z" fill="#cc0808"/>
<path d="M404 395h2v1h1v1h-1v1h-2v-1h-1v-1h1z" fill="#cc0808"/>
<path d="M412 384h2v1h1v1h-1v1h-2v-1h-1v-1h1z" fill="#cc0808"/>
<path d="M420 375h2v1h1v1h-1v1h-2v-1h-1v-1h1z" fill="#cc0808"/>
<path d="M428 334h2v1h1v1h-1v1h-2v-1h-1v-1h1z" fill="#cc0808"/>
<path d="M435 334h2v1h1v1h-1v1h-2v-1h-1v-1h1z" fill="#cc0808"/>
<path d="M443 336h2v1h1v1h-1v1h-2v-1h-1v-1h1z" fill="#cc0808"/>
<path d="M451 338h2v1h1v1h-1v1h-2v-1h-1v-1h1z" fill="#cc0808"/>
<path d="M459 340h2v1h1v1h-1v1h-2v-1h-1v-1h1z" fill="#cc0808"/>
<path d="M467 384h2v1h1v1h-1v1h-2v-1h-1v-1h1z" fill="#cc0808"/>
<path d="M475 383h2v1h1v1h-1v1h-2v-1h-1v-1h1z" fill="#cc0808"/>
<path d="M482 381h2v1h1v1h-1v1h-2v-1h-1v-1h1z" fill="#cc0808"/>
<path d="M490 377h2v1h1v1h-1v1h-2v-1h-1v-1h1z" fill="#cc0808"/>
<path d="M498 374h2v1h1v1h-1v1h-2v-1h-1v-1h1z" fill="#cc0808"/>
<path d="M506 371h2v1h1v1h-1v1h-2v-1h-1v-1h1z" fill="#cc0808"/>
<path d="M514 323h2v1h1v1h-1v1h-2v-1h-1v-1h1z" fill="#cc0808"/>
<path d="M522 324h2v1h1v1h-1v1h-2v-1h-1v-1h1z" fill="#cc0808"/>
<path d="M529 325h2v1h1v1h-1v1h-2v-1h-1v-1h1z" fill="#cc0808"/>
<path d="M537 325h2v1h1v1h-1v1h-2v-1h-1v-1h1z" fill="#cc0808"/>
<path d="M545 327h2v1h1v1h-1v1h-2v-1h-1v-1h1z" fill="#cc0808"/>
<path d="M553 329h2v1h1v1h-1v1h-2v-1h-1v-1h1z" fill="#cc0808"/>
<path d="M561 331h2v1h1v1h-1v1h-2v-1h-1v-1h1z" fill="#cc0808"/>
<path d="M568 332h2v1h1v1h-1v1h-2v-1h-1v-1h1z" fill="#cc0808"/>
<path d="M576 334h2v1h1v1h-1v1h-2v-1h-1v-1h1z" fill="#cc0808"/>
<path d="M584 335h2v1h1v1h-1v1h-2v-1h-1v-1h1z" fill="#cc0808"/>
<path d="M592 335h2v1h1v1h-1v1h-2v-1h-1v-1h1z" fill="#cc0808"/>
<path d="M600 341h2v1h1v1h-1v1h-2v-1h-1v-1h1z" fill="#cc0808"/>
<path d="M608 430h2v1h1v1h-1v1h-2v-1h-1v-1h1z" fill="#cc0808"/>
<path d="M615 428h2v1h1v1h-1v1h-2v-1h-1v-1h1z" fill="#cc0808"/>
<path d="M623 427h2v1h1v1h-1v1h-2v-1h-1v-1h1z" fill="#cc0808"/>
<path d="M631 425h2v1h1v1h-1v1h-2v-1h-1v-1h1z" fill="#cc0808"/>
<path d="M639 423h2v1h1v1h-1v1h-2v-1h-1v-1h1z" fill="#cc0808"/>
<path d="M647 422h2v1h1v1h-1v1h-2v-1h-1v-1h1z" fill="#cc0808"/>
<path d="M655 420h2v1h1v1h-1v1h-2v-1h-1v-1h1z" fill="#cc0808"/>
<path d="M662 419h2v1h1v1h-1v1h-2v-1h-1v-1h1z" fill="#cc0808"/>
<path d="M670 417h2v1h1v1h-1v1h-2v-1h-1v-1h1z" fill="#cc0808"/>
<path d="M678 416h2v1h1v1h-1v1h-2v-1h-1v-1h1z" fill="#cc0808"/>
<path d="M686 414h2v1h1v1h-1v1h-2v-1h-1v-1h1z" fill="#cc0808"/>
<path d="M694 413h2v1h1v1h-1v1h-2v-1h-1v-1h1z" fill="#cc0808"/>
<path d="M702 411h2v1h1v1h-1v1h-2v-1h-1v-1h1z" fill="#cc0808"/>
<path d="M709 410h2v1h1v1h-1v1h-2v-1h-1v-1h1z" fill="#cc0808"/>
<path d="M717 409h2v1h1v1h-1v1h-2v-1h-1v-1h1z" fill="#cc0808"/>
<path d="M725 407h2v1h1v1h-1v1h-2v-1h-1v-1h1z" fill="#cc0808"/>
<path d="M733 406h2v1h1v1h-1v1h-2v-1h-1v-1h1z" fill="#cc0808"/>
<path d="M741 405h2v1h1v1h-1v1h-2v-1h-1v-1h1z" fill="#cc0808"/>
<path d="M748 403h2v1h1v1h-1v1h-2v-1h-1v-1h1z" fill="#cc0808"/>
<path d="M756 402h2v1h1v1h-1v1h-2v-1h-1v-1h1z" fill="#cc0808"/>
<path d="M764 401h2v1h1v1h-1v1h-2v-1h-1v-1h1z" fill="#cc0808"/>
<path d="M772 400h2v1h1v1h-1v1h-2v-1h-1v-1h1z" fill="#cc0808"/>
<path d="M780 399h2v1h1v1h-1v1h-2v-1h-1v-1h1z" fill="#cc0808"/>
<path d="M788 397h2v1h1v1h-1v1h-2v-1h-1v-1h1z" fill="#cc0808"/>
<path d="M795 396h2v1h1v1h-1v1h-2v-1h-1v-1h1z" fill="#cc0808"/>
<path d="M803 395h2v1h1v1h-1v1h-2v-1h-1v-1h1z" fill="#cc0808"/>
<path d="M811 342h2v1h1v1h-1v1h-2v-1h-1v-1h1z" fill="#cc0808"/>
<path d="M819 343h2v1h1v1h-1v1h-2v-1h-1v-1h1z" fill="#cc0808"/>
<path d="M827 344h2v1h1v1h-1v1h-2v-1h-1v-1h1z" fill="#cc0808"/>
<path d="M835 404h2v1h1v1h-1v1h-2v-1h-1v-1h1z" fill="#cc0808"/>
<path d="M842 403h2v1h1v1h-1v1h-2v-1h-1v-1h1z" fill="#cc0808"/>
<path d="M850 399h2v1h1v1h-1v1h-2v-1h-1v-1h1z" fill="#cc0808"/>
<rect x="946" y="277" width="41" height="16" fill="#000"/>
<rect x="5" y="563" width="1" height="7" fill="#000080"/>
<rect x="13" y="563" width="1" height="7" fill="#000080"/>
<rect x="21" y="558" width="1" height="12" fill="#000080"/>
<rect x="29" y="556" width="1" height="14" fill="#000080"/>
<rect x="36" y="562" width="1" height="8" fill="#000080"/>
<rect x="44" y="562" width="1" height="8" fill="#000080"/>
<rect x="52" y="556" width="1" height="14" fill="#000080"/>
<rect x="60" y="558" width="1" height="12" fill="#000080"/>
<rect x="68" y="562" width="1" height="8" fill="#000080"/>
<rect x="76" y="563" width="1" height="7" fill="#000080"/>
<rect x="83" y="564" width="1" height="6" fill="#000080"/>
<rect x="91" y="565" width="1" height="5" fill="#000080"/>
<rect x="99" y="565" width="1" height="5" fill="#000080"/>
<rect x="107" y="568" width="1" height="2" fill="#000080"/>
<rect x="115" y="568" width="1" height="2" fill="#000080"/>
<rect x="130" y="565" width="1" height="5" fill="#000080"/>
<rect x="138" y="560" width="1" height="10" fill="#000080"/>
<rect x="146" y="568" width="1" height="2" fill="#000080"/>
<rect x="154" y="567" width="1" height="3" fill="#000080"/>
<rect x="162" y="564" width="1" height="6" fill="#000080"/>
<rect x="169" y="564" width="1" height="6" fill="#000080"/>
<rect x="177" y="556" width="1" height="14" fill="#000080"/>
<rect x="185" y="558" width="1" height="12" fill="#000080"/>
<rect x="193" y="566" width="1" height="4" fill="#000080"/>
<rect x="201" y="568" width="1" height="2" fill="#000080"/>
<rect x="209" y="567" width="1" height="3" fill="#000080"/>
<rect x="216" y="567" width="1" height="3" fill="#000080"/>
<rect x="224" y="569" width="1" height="1" fill="#000080"/>
<rect x="240" y="569" width="1" height="1" fill="#000080"/>
<rect x="248" y="563" width="1" height="7" fill="#000080"/>
<rect x="255" y="563" width="1" height="7" fill="#000080"/>
<rect x="263" y="566" width="1" height="4" fill="#000080"/>
<rect x="271" y="566" width="1" height="4" fill="#000080"/>
<rect x="279" y="563" width="1" height="7" fill="#000080"/>
<rect x="287" y="565" width="1" height="5" fill="#000080"/>
<rect x="295" y="567" width="1" height="3" fill="#000080"/>
<rect x="302" y="568" width="1" height="2" fill="#000080"/>
<rect x="318" y="552" width="1" height="18" fill="#000080"/>
<rect x="326" y="557" width="1" height="13" fill="#000080"/>
<rect x="334" y="557" width="1" height="13" fill="#000080"/>
<rect x="342" y="556" width="1" height="14" fill="#000080"/>
<rect x="349" y="562" width="1" height="8" fill="#000080"/>
<rect x="357" y="564" width="1" height="6" fill="#000080"/>
<rect x="365" y="568" width="1" height="2" fill="#000080"/>
<rect x="373" y="566" width="1" height="4" fill="#000080"/>
<rect x="381" y="532" width="1" height="38" fill="#000080"/>
<rect x="389" y="537" width="1" height="33" fill="#000080"/>
<rect x="396" y="539" width="1" height="31" fill="#000080"/>
<rect x="404" y="546" width="1" height="24" fill="#000080"/>
<rect x="412" y="549" width="1" height="21" fill="#000080"/>
<rect x="420" y="540" width="1" height="30" fill="#000080"/>
<rect x="428" y="553" width="1" height="17" fill="#000080"/>
<rect x="435" y="552" width="1" height="18" fill="#000080"/>
<rect x="443" y="562" width="1" height="8" fill="#000080"/>
<rect x="451" y="560" width="1" height="10" fill="#000080"/>
<rect x="459" y="557" width="1" height="13" fill="#000080"/>
<rect x="467" y="541" width="1" height="29" fill="#000080"/>
<rect x="475" y="545" width="1" height="25" fill="#000080"/>
<rect x="482" y="555" width="1" height="15" fill="#000080"/>
<rect x="490" y="564" width="1" height="6" fill="#000080"/>
<rect x="498" y="564" width="1" height="6" fill="#000080"/>
<rect x="506" y="563" width="1" height="7" fill="#000080"/>
<rect x="514" y="563" width="1" height="7" fill="#000080"/>
<rect x="522" y="545" width="1" height="25" fill="#000080"/>
<rect x="529" y="564" width="1" height="6" fill="#000080"/>
<rect x="537" y="565" width="1" height="5" fill="#000080"/>
<rect x="545" y="563" width="1" height="7" fill="#000080"/>
<rect x="553" y="559" width="1" height="11" fill="#000080"/>
<rect x="561" y="558" width="1" height="12" fill="#000080"/>
<rect x="568" y="560" width="1" height="10" fill="#000080"/>
<rect x="576" y="555" width="1" height="15" fill="#000080"/>
<rect x="584" y="555" width="1" height="15" fill="#000080"/>
<rect x="592" y="558" width="1" height="12" fill="#000080"/>
<rect x="600" y="528" width="1" height="42" fill="#000080"/>
<rect x="608" y="547" width="1" height="23" fill="#000080"/>
<rect x="615" y="560" width="1" height="10" fill="#000080"/>
<rect x="623" y="566" width="1" height="4" fill="#000080"/>
<rect x="631" y="561" width="1" height="9" fill="#000080"/>
<rect x="639" y="563" width="1" height="7" fill="#000080"/>
<rect x="647" y="563" width="1" height="7" fill="#000080"/>
<rect x="655" y="566" width="1" height="4" fill="#000080"/>
<rect x="662" y="565" width="1" height="5" fill="#000080"/>
<rect x="670" y="556" width="1" height="14" fill="#000080"/>
<rect x="678" y="563" width="1" height="7" fill="#000080"/>
<rect x="686" y="565" width="1" height="5" fill="#000080"/>
<rect x="694" y="564" width="1" height="6" fill="#000080"/>
<rect x="709" y="569" width="1" height="1" fill="#000080"/>
<rect x="717" y="567" width="1" height="3" fill="#000080"/>
<rect x="733" y="568" width="1" height="2" fill="#000080"/>
<rect x="741" y="567" width="1" height="3" fill="#000080"/>
<rect x="748" y="568" width="1" height="2" fill="#000080"/>
<rect x="756" y="556" width="1" height="14" fill="#000080"/>
<rect x="764" y="562" width="1" height="8" fill="#000080"/>
<rect x="772" y="510" width="1" height="60" fill="#000080"/>
<rect x="780" y="554" width="1" height="16" fill="#000080"/>
<rect x="788" y="558" width="1" height="12" fill="#000080"/>
<rect x="795" y="559" width="1" height="11" fill="#000080"/>
<rect x="803" y="564" width="1" height="6" fill="#000080"/>
<rect x="811" y="565" width="1" height="5" fill="#000080"/>
<rect x="819" y="560" width="1" height="10" fill="#000080"/>
<rect x="827" y="529" width="1" height="41" fill="#000080"/>
<rect x="835" y="505" width="1" height="65" fill="#000080"/>
<rect x="842" y="522" width="1" height="48" fill="#000080"/>
<rect x="850" y="545" width="1" height="25" fill="#000080"/>
<path d="M943.5 570V557.5H966.5V570" fill="none" stroke="#000" stroke-width="1"/>
<g fill="#3c4b5c"><rect x="53" y="128" width="1" height="1"/><rect x="54" y="128" width="1" height="1" fill-opacity="0.75"/><rect x="125" y="128" width="1" height="1" fill-opacity="0.25"/><rect x="126" y="128" width="1" height="1"/><rect x="127" y="128" width="1" height="1" fill-opacity="0.25"/><rect x="52" y="129" width="1" height="1" fill-opacity="0.25"/><rect x="53" y="129" width="1" height="1"/><rect x="125" y="129" width="1" height="1" fill-opacity="0.75"/><rect x="126" y="129" width="1" height="1" fill-opacity="0.5"/><rect x="52" y="130" width="1" height="1" fill-opacity="0.25"/><rect x="53" y="130" width="2" height="1"/><rect x="125" y="130" width="1" height="1" fill-opacity="0.5"/><rect x="126" y="130" width="1" height="1"/><rect x="127" y="130" width="1" height="1" fill-opacity="0.75"/><rect x="28" y="131" width="1" height="1"/><rect x="29" y="131" width="1" height="1" fill-opacity="0.5"/><rect x="53" y="131" width="1" height="1" fill-opacity="0.5"/><rect x="54" y="131" width="1" height="1" fill-opacity="0.25"/><rect x="57" y="131" width="1" height="1"/><rect x="58" y="131" width="1" height="1" fill-opacity="0.25"/><rect x="60" y="131" width="1" height="1"/><rect x="61" y="131" width="1" height="1" fill-opacity="0.5"/><rect x="98" y="131" width="1" height="1"/><rect x="99" y="131" width="1" height="1" fill-opacity="0.25"/><rect x="101" y="131" width="2" height="1"/><rect x="117" y="131" width="1" height="1" fill-opacity="0.5"/><rect x="118" y="131" width="1" height="1"/><rect x="125" y="131" width="1" height="1" fill-opacity="0.25"/><rect x="126" y="131" width="1" height="1" fill-opacity="0.5"/><rect x="129" y="131" width="1" height="1" fill-opacity="0.25"/><rect x="130" y="131" width="1" height="1"/><rect x="133" y="131" width="1" height="1"/><rect x="28" y="132" width="1" height="1"/><rect x="29" y="132" width="1" height="1" fill-opacity="0.5"/><rect x="38" y="132" width="1" height="1"/><rect x="53" y="132" width="1" height="1" fill-opacity="0.5"/><rect x="54" y="132" width="1" height="1"/><rect x="57" y="132" width="1" height="1"/><rect x="58" y="132" width="1" height="1" fill-opacity="0.25"/><rect x="60" y="132" width="1" height="1"/><rect x="61" y="132" width="1" height="1" fill-opacity="0.5"/><rect x="98" y="132" width="1" height="1"/><rect x="99" y="132" width="1" height="1" fill-opacity="0.25"/><rect x="101" y="132" width="2" height="1"/><rect x="117" y="132" width="1" height="1" fill-opacity="0.5"/><rect x="118" y="132" width="1" height="1"/><rect x="126" y="132" width="2" height="1"/><rect x="129" y="132" width="1" height="1" fill-opacity="0.25"/><rect x="130" y="132" width="1" height="1"/><rect x="133" y="132" width="1" height="1"/><rect x="28" y="133" width="1" height="1"/><rect x="29" y="133" width="1" height="1" fill-opacity="0.5"/><rect x="54" y="133" width="1" height="1"/><rect x="55" y="133" width="1" height="1" fill-opacity="0.5"/><rect x="57" y="133" width="1" height="1"/><rect x="58" y="133" width="1" height="1" fill-opacity="0.25"/><rect x="60" y="133" width="1" height="1"/><rect x="61" y="133" width="1" height="1" fill-opacity="0.5"/><rect x="76" y="133" width="3" height="1"/><rect x="98" y="133" width="1" height="1"/><rect x="99" y="133" width="1" height="1" fill-opacity="0.25"/><rect x="101" y="133" width="2" height="1"/><rect x="117" y="133" width="1" height="1" fill-opacity="0.5"/><rect x="118" y="133" width="1" height="1"/><rect x="121" y="133" width="1" height="1" fill-opacity="0.5"/><rect x="127" y="133" width="1" height="1"/><rect x="129" y="133" width="1" height="1" fill-opacity="0.25"/><rect x="130" y="133" width="1" height="1"/><rect x="133" y="133" width="1" height="1"/><rect x="28" y="134" width="1" height="1"/><rect x="29" y="134" width="1" height="1" fill-opacity="0.5"/><rect x="37" y="134" width="3" height="1"/><rect x="40" y="134" width="1" height="1" fill-opacity="0.5"/><rect x="41" y="134" width="2" height="1"/><rect x="54" y="134" width="1" height="1" fill-opacity="0.5"/><rect x="55" y="134" width="1" height="1"/><rect x="57" y="134" width="1" height="1"/><rect x="58" y="134" width="1" height="1" fill-opacity="0.25"/><rect x="60" y="134" width="1" height="1"/><rect x="61" y="134" width="1" height="1" fill-opacity="0.5"/><rect x="77" y="134" width="1" height="1" fill-opacity="0.25"/><rect x="78" y="134" width="1" height="1" fill-opacity="0.5"/><rect x="91" y="134" width="1" height="1"/><rect x="94" y="134" width="2" height="1"/><rect x="96" y="134" width="1" height="1" fill-opacity="0.5"/><rect x="98" y="134" width="1" height="1"/><rect x="99" y="134" width="1" height="1" fill-opacity="0.25"/><rect x="101" y="134" width="2" height="1"/><rect x="117" y="134" width="1" height="1" fill-opacity="0.5"/><rect x="118" y="134" width="1" height="1"/><rect x="121" y="134" width="2" height="1"/><rect x="123" y="134" width="1" height="1" fill-opacity="0.25"/><rect x="127" y="134" width="2" height="1"/><rect x="129" y="134" width="1" height="1" fill-opacity="0.25"/><rect x="130" y="134" width="1" height="1"/><rect x="133" y="134" width="1" height="1"/><rect x="28" y="135" width="1" height="1"/><rect x="29" y="135" width="1" height="1" fill-opacity="0.5"/><rect x="32" y="135" width="1" height="1" fill-opacity="0.25"/><rect x="33" y="135" width="2" height="1"/><rect x="35" y="135" width="1" height="1" fill-opacity="0.25"/><rect x="51" y="135" width="1" height="1"/><rect x="55" y="135" width="1" height="1"/><rect x="56" y="135" width="1" height="1" fill-opacity="0.5"/><rect x="57" y="135" width="1" height="1"/><rect x="58" y="135" width="1" height="1" fill-opacity="0.25"/><rect x="60" y="135" width="1" height="1"/><rect x="61" y="135" width="1" height="1" fill-opacity="0.5"/><rect x="67" y="135" width="2" height="1"/><rect x="69" y="135" width="1" height="1" fill-opacity="0.5"/><rect x="76" y="135" width="1" height="1" fill-opacity="0.5"/><rect x="77" y="135" width="2" height="1"/><rect x="85" y="135" width="1" height="1" fill-opacity="0.25"/><rect x="86" y="135" width="2" height="1"/><rect x="88" y="135" width="1" height="1" fill-opacity="0.25"/><rect x="98" y="135" width="1" height="1"/><rect x="99" y="135" width="1" height="1" fill-opacity="0.25"/><rect x="101" y="135" width="2" height="1"/><rect x="117" y="135" width="1" height="1" fill-opacity="0.5"/><rect x="118" y="135" width="1" height="1"/><rect x="120" y="135" width="1" height="1" fill-opacity="0.25"/><rect x="121" y="135" width="3" height="1"/><rect x="124" y="135" width="1" height="1" fill-opacity="0.5"/><rect x="127" y="135" width="1" height="1" fill-opacity="0.25"/><rect x="128" y="135" width="1" height="1"/><rect x="129" y="135" width="1" height="1" fill-opacity="0.5"/><rect x="130" y="135" width="1" height="1"/><rect x="133" y="135" width="1" height="1"/><rect x="25" y="136" width="2" height="1" fill-opacity="0.5"/><rect x="28" y="136" width="1" height="1"/><rect x="29" y="136" width="1" height="1" fill-opacity="0.5"/><rect x="32" y="136" width="1" height="1"/><rect x="33" y="136" width="1" height="1" fill-opacity="0.5"/><rect x="34" y="136" width="2" height="1"/><rect x="38" y="136" width="1" height="1"/><rect x="39" y="136" width="1" height="1" fill-opacity="0.25"/><rect x="41" y="136" width="1" height="1"/><rect x="42" y="136" width="1" height="1" fill-opacity="0.75"/><rect x="45" y="136" width="1" height="1"/><rect x="46" y="136" width="1" height="1" fill-opacity="0.5"/><rect x="48" y="136" width="1" height="1"/><rect x="49" y="136" width="1" height="1" fill-opacity="0.5"/><rect x="51" y="136" width="1" height="1"/><rect x="55" y="136" width="1" height="1" fill-opacity="0.75"/><rect x="56" y="136" width="2" height="1"/><rect x="60" y="136" width="1" height="1"/><rect x="61" y="136" width="1" height="1" fill-opacity="0.5"/><rect x="66" y="136" width="1" height="1" fill-opacity="0.5"/><rect x="67" y="136" width="1" height="1"/><rect x="68" y="136" width="1" height="1" fill-opacity="0.5"/><rect x="69" y="136" width="1" height="1"/><rect x="75" y="136" width="1" height="1" fill-opacity="0.75"/><rect x="76" y="136" width="1" height="1"/><rect x="77" y="136" width="1" height="1" fill-opacity="0.5"/><rect x="78" y="136" width="1" height="1"/><rect x="81" y="136" width="1" height="1" fill-opacity="0.75"/><rect x="82" y="136" width="1" height="1"/><rect x="85" y="136" width="1" height="1"/><rect x="86" y="136" width="1" height="1" fill-opacity="0.5"/><rect x="87" y="136" width="2" height="1"/><rect x="91" y="136" width="1" height="1"/><rect x="92" y="136" width="1" height="1" fill-opacity="0.25"/><rect x="94" y="136" width="1" height="1" fill-opacity="0.75"/><rect x="95" y="136" width="1" height="1"/><rect x="98" y="136" width="1" height="1"/><rect x="99" y="136" width="1" height="1" fill-opacity="0.25"/><rect x="101" y="136" width="2" height="1"/><rect x="108" y="136" width="1" height="1" fill-opacity="0.5"/><rect x="113" y="136" width="2" height="1"/><rect x="115" y="136" width="1" height="1" fill-opacity="0.5"/><rect x="117" y="136" width="1" height="1" fill-opacity="0.5"/><rect x="118" y="136" width="1" height="1"/><rect x="120" y="136" width="1" height="1" fill-opacity="0.5"/><rect x="121" y="136" width="1" height="1"/><rect x="122" y="136" width="1" height="1" fill-opacity="0.75"/><rect x="123" y="136" width="2" height="1"/><rect x="128" y="136" width="3" height="1"/><rect x="133" y="136" width="1" height="1"/><rect x="25" y="137" width="1" height="1" fill-opacity="0.75"/><rect x="26" y="137" width="1" height="1"/><rect x="28" y="137" width="2" height="1"/><rect x="31" y="137" width="1" height="1" fill-opacity="0.25"/><rect x="32" y="137" width="1" height="1"/><rect x="33" y="137" width="1" height="1" fill-opacity="0.5"/><rect x="34" y="137" width="1" height="1" fill-opacity="0.75"/><rect x="35" y="137" width="1" height="1"/><rect x="37" y="137" width="1" height="1" fill-opacity="0.25"/><rect x="38" y="137" width="1" height="1"/><rect x="39" y="137" width="1" height="1" fill-opacity="0.5"/><rect x="41" y="137" width="2" height="1"/><rect x="44" y="137" width="1" height="1" fill-opacity="0.25"/><rect x="45" y="137" width="2" height="1"/><rect x="48" y="137" width="2" height="1"/><rect x="50" y="137" width="1" height="1" fill-opacity="0.5"/><rect x="51" y="137" width="1" height="1"/><rect x="54" y="137" width="1" height="1" fill-opacity="0.25"/><rect x="55" y="137" width="1" height="1" fill-opacity="0.75"/><rect x="56" y="137" width="1" height="1"/><rect x="57" y="137" width="1" height="1" fill-opacity="0.5"/><rect x="60" y="137" width="1" height="1"/><rect x="61" y="137" width="1" height="1" fill-opacity="0.5"/><rect x="66" y="137" width="1" height="1" fill-opacity="0.5"/><rect x="67" y="137" width="1" height="1"/><rect x="69" y="137" width="1" height="1"/><rect x="70" y="137" width="1" height="1" fill-opacity="0.5"/><rect x="75" y="137" width="4" height="1"/><rect x="79" y="137" width="1" height="1" fill-opacity="0.5"/><rect x="81" y="137" width="2" height="1"/><rect x="84" y="137" width="1" height="1" fill-opacity="0.25"/><rect x="85" y="137" width="1" height="1"/><rect x="86" y="137" width="1" height="1" fill-opacity="0.5"/><rect x="87" y="137" width="1" height="1" fill-opacity="0.75"/><rect x="88" y="137" width="1" height="1"/><rect x="90" y="137" width="1" height="1" fill-opacity="0.25"/><rect x="91" y="137" width="1" height="1"/><rect x="92" y="137" width="1" height="1" fill-opacity="0.5"/><rect x="94" y="137" width="2" height="1"/><rect x="97" y="137" width="1" height="1" fill-opacity="0.25"/><rect x="98" y="137" width="1" height="1"/><rect x="99" y="137" width="1" height="1" fill-opacity="0.5"/><rect x="101" y="137" width="2" height="1"/><rect x="108" y="137" width="1" height="1"/><rect x="112" y="137" width="1" height="1" fill-opacity="0.25"/><rect x="113" y="137" width="1" height="1"/><rect x="114" y="137" width="1" height="1" fill-opacity="0.75"/><rect x="115" y="137" width="1" height="1"/><rect x="117" y="137" width="1" height="1" fill-opacity="0.75"/><rect x="118" y="137" width="1" height="1"/><rect x="121" y="137" width="2" height="1"/><rect x="123" y="137" width="1" height="1" fill-opacity="0.75"/><rect x="124" y="137" width="1" height="1"/><rect x="125" y="137" width="3" height="1" fill-opacity="0.25"/><rect x="128" y="137" width="2" height="1"/><rect x="130" y="137" width="1" height="1" fill-opacity="0.25"/><rect x="133" y="137" width="1" height="1"/><rect x="25" y="138" width="2" height="1"/><rect x="28" y="138" width="1" height="1" fill-opacity="0.5"/><rect x="29" y="138" width="22" height="1"/><rect x="51" y="138" width="1" height="1" fill-opacity="0.75"/><rect x="53" y="138" width="1" height="1" fill-opacity="0.5"/><rect x="54" y="138" width="2" height="1"/><rect x="56" y="138" width="1" height="1" fill-opacity="0.5"/><rect x="60" y="138" width="1" height="1"/><rect x="61" y="138" width="1" height="1" fill-opacity="0.5"/><rect x="67" y="138" width="3" height="1"/><rect x="70" y="138" width="1" height="1" fill-opacity="0.25"/><rect x="75" y="138" width="1" height="1" fill-opacity="0.25"/><rect x="76" y="138" width="26" height="1"/><rect x="102" y="138" width="1" height="1" fill-opacity="0.25"/><rect x="108" y="138" width="1" height="1"/><rect x="109" y="138" width="1" height="1" fill-opacity="0.75"/><rect x="110" y="138" width="1" height="1" fill-opacity="0.25"/><rect x="113" y="138" width="12" height="1"/><rect x="126" y="138" width="3" height="1"/><rect x="129" y="138" width="1" height="1" fill-opacity="0.25"/><rect x="133" y="138" width="1" height="1"/><rect x="24" y="139" width="1" height="1" fill-opacity="0.25"/><rect x="25" y="139" width="1" height="1"/><rect x="26" y="139" width="1" height="1" fill-opacity="0.5"/><rect x="68" y="139" width="1" height="1" fill-opacity="0.5"/><rect x="69" y="139" width="1" height="1"/><rect x="108" y="139" width="1" height="1" fill-opacity="0.25"/><rect x="109" y="139" width="5" height="1"/><rect x="114" y="139" width="1" height="1" fill-opacity="0.25"/><rect x="22" y="140" width="1" height="1" fill-opacity="0.25"/><rect x="23" y="140" width="3" height="1"/><rect x="66" y="140" width="1" height="1" fill-opacity="0.5"/><rect x="67" y="140" width="3" height="1"/><rect x="81" y="140" width="2" height="1"/><rect x="83" y="140" width="1" height="1" fill-opacity="0.5"/><rect x="21" y="141" width="3" height="1"/><rect x="24" y="141" width="1" height="1" fill-opacity="0.75"/><rect x="65" y="141" width="3" height="1"/><rect x="68" y="141" width="1" height="1" fill-opacity="0.75"/><rect x="109" y="141" width="1" height="1" fill-opacity="0.25"/><rect x="110" y="141" width="2" height="1"/><rect x="112" y="141" width="1" height="1" fill-opacity="0.25"/></g>
</svg>
<div class="t" style="left:20.8px;top:3.6px;color:#3c4b5c;font-size:12px;transform:scaleX(0.98);transform-origin:0 0;">Stochastic Oscillator</div>
<div class="t" style="left:131.0px;top:3.6px;color:#e0202c;font-size:12px;transform:scaleX(0.909);transform-origin:0 0;">(82.2981)</div>
<div class="t" style="left:138.5px;top:127.5px;color:#000;font-size:12px;transform:scaleX(0.903);transform-origin:0 0;">(22.0000, 23.5900, 20.6000, 22.8400, +1.41000)</div>
<div class="t" style="left:372.2px;top:127.5px;color:#3c4b5c;font-size:12px;transform:scaleX(0.92);transform-origin:0 0;">, </div>
<div class="t" style="left:379.0px;top:127.5px;color:#3c4b5c;font-size:12px;transform:scaleX(0.927);transform-origin:0 0;">Parabolic SAR</div>
<div class="t" style="left:455.4px;top:127.5px;color:#e0202c;font-size:12px;transform:scaleX(0.89);transform-origin:0 0;">(13.8268)</div>
<div class="t b" style="left:888px;width:100px;text-align:right;top:68px;color:#000;font-size:12px;">50</div>
<div class="t b" style="left:888px;width:100px;text-align:right;top:443.2px;color:#000;font-size:12px;">10</div>
<div class="t b" style="left:888px;width:100px;text-align:right;top:380.1px;color:#000;font-size:12px;">15</div>
<div class="t b" style="left:888px;width:100px;text-align:right;top:317.1px;color:#000;font-size:12px;">20</div>
<div class="t b" style="left:888px;width:100px;text-align:right;top:254.0px;color:#000;font-size:12px;">25</div>
<div class="t b" style="left:888px;width:100px;text-align:right;top:191.0px;color:#000;font-size:12px;">30</div>
<div class="t b" style="left:888px;width:100px;text-align:right;top:512.5px;color:#000;font-size:12px;">50000</div>
<div class="t b" style="left:945px;top:558.5px;color:#222;font-size:9px;line-height:11px;-webkit-text-stroke:0;">x100</div>
<div class="t b" style="left:946.5px;top:278.1px;color:#33cc33;font-size:11px;line-height:14px;-webkit-text-stroke:0;">22.8400</div>
<div class="t b" style="left:836.5px;top:239.1px;color:#2020b0;font-size:12px;">target</div>
<div class="t b" style="left:448.6px;top:306.3px;color:#1414a0;font-size:12px;font-family:'Liberation Serif',serif;font-weight:bold;font-style:italic;letter-spacing:1.6px;">19.59</div>
<div class="t b" style="left:-10px;top:576.4px;color:#000;font-size:12px;">Oct</div>
<div class="t b" style="left:31px;top:576.4px;color:#000;font-size:12px;">Nov</div>
<div class="t b" style="left:62px;top:576.4px;color:#000;font-size:12px;">Dec</div>
<div class="t b" style="left:93px;top:576.4px;color:#000;font-size:12px;">2022</div>
<div class="t b" style="left:132px;top:576.4px;color:#000;font-size:12px;">Feb</div>
<div class="t b" style="left:164px;top:576.4px;color:#000;font-size:12px;">Mar</div>
<div class="t b" style="left:195px;top:576.4px;color:#000;font-size:12px;">Apr</div>
<div class="t b" style="left:234px;top:576.4px;color:#000;font-size:12px;">May</div>
<div class="t b" style="left:265px;top:576.4px;color:#000;font-size:12px;">Jun</div>
<div class="t b" style="left:297px;top:576.4px;color:#000;font-size:12px;">Jul</div>
<div class="t b" style="left:336px;top:576.4px;color:#000;font-size:12px;">Aug</div>
<div class="t b" style="left:367px;top:576.4px;color:#000;font-size:12px;">Sep</div>
<div class="t b" style="left:398px;top:576.4px;color:#000;font-size:12px;">Oct</div>
<div class="t b" style="left:437px;top:576.4px;color:#000;font-size:12px;">Nov</div>
<div class="t b" style="left:469px;top:576.4px;color:#000;font-size:12px;">Dec</div>
<div class="t b" style="left:508px;top:576.4px;color:#000;font-size:12px;">2023</div>
<div class="t b" style="left:570px;top:576.4px;color:#000;font-size:12px;">Mar</div>
<div class="t b" style="left:602px;top:576.4px;color:#000;font-size:12px;">Apr</div>
<div class="t b" style="left:641px;top:576.4px;color:#000;font-size:12px;">May</div>
<div class="t b" style="left:672px;top:576.4px;color:#000;font-size:12px;">Jun</div>
<div class="t b" style="left:711px;top:576.4px;color:#000;font-size:12px;">Jul</div>
<div class="t b" style="left:743px;top:576.4px;color:#000;font-size:12px;">Aug</div>
<div class="t b" style="left:774px;top:576.4px;color:#000;font-size:12px;">Sep</div>
<div class="t b" style="left:805px;top:576.4px;color:#000;font-size:12px;">Oct</div>
<div class="t b" style="left:844px;top:576.4px;color:#000;font-size:12px;">Nov</div>
<div class="t b" style="left:883px;top:576.4px;color:#000;font-size:12px;">Dec</div>
<div class="t b" style="left:915px;top:576.4px;color:#000;font-size:12px;">2024</div>
</body></html>
